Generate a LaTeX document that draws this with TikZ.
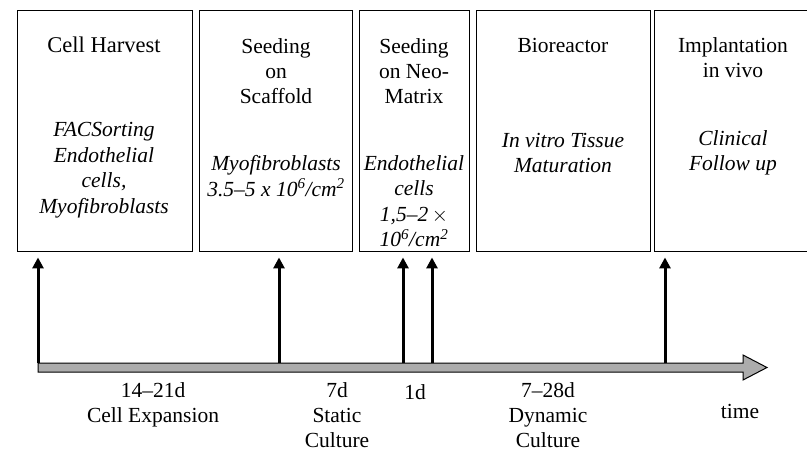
\documentclass[tikz,border=0pt]{standalone}
\usepackage{fontspec}
\setmainfont{Liberation Serif}
\usetikzlibrary{arrows.meta}

\begin{document}
\begin{tikzpicture}[x=1pt, y=-1pt,
  every node/.style={inner sep=0pt, align=center, font=\fontsize{21.5}{25}\selectfont},
  stagebox/.style={draw, line width=0.9pt, minimum height=241pt},
  note/.style={font=\fontsize{21.5}{25.5}\selectfont\itshape},
  tick/.style={line width=3pt, -{Triangle[length=11pt, width=11pt]}},
  axis/.style={draw=black, line width=1pt, fill=gray!65}]
\useasboundingbox (0,0) rectangle (807,452);
\clip (0,0) rectangle (807,452);
\node[stagebox, minimum width=175pt] (B1) at (104.5,130.5) {};
\node[stagebox, minimum width=153pt] (B2) at (275.5,130.5) {};
\node[stagebox, minimum width=110pt] (B3) at (414,130.5) {};
\node[stagebox, minimum width=174pt] (B4) at (563,130.5) {};
\node[stagebox, minimum width=170pt] (B5) at (739,130.5) {};
\node[font=\fontsize{22.5}{25}\selectfont] (B1T) at (104,45) {Cell Harvest};
\node[note] (B1N) at (104,170) {FACSorting\\Endothelial\\cells,\\Myofibroblasts};
\node (B2T) at (276,71) {Seeding\\on\\Scaffold};
\node[note] (B2N) at (276,176) {Myofibroblasts\\3.5--5 x 10\textsuperscript{6}/cm\textsuperscript{2}};
\node (B3T) at (414,71) {Seeding\\on Neo-\\Matrix};
\node[note] (B3N) at (414,201) {Endothelial\\cells\\1,5--2\,$\times$\\10\textsuperscript{6}/cm\textsuperscript{2}};
\node (B4T) at (563,45) {Bioreactor};
\node[note] (B4N) at (563,153) {In vitro Tissue\\Maturation};
\node (B5T) at (733,58) {Implantation\\in vivo};
\node[note] (B5N) at (733,153) {Clinical\\Follow up};
\draw[axis] (38,363) -- (743,363) -- (743,355) -- (767,367.5) -- (743,380) -- (743,372) -- (38,372) -- cycle;
\coordinate (A1) at (38,363);
\coordinate (A2) at (279,363);
\coordinate (A3) at (403,363);
\coordinate (A4) at (432,363);
\coordinate (A5) at (665,363);
\draw[tick, shorten >=6pt] (A1) -- (A1 |- B1.south);
\draw[tick, shorten >=6pt] (A2) -- (A2 |- B2.south);
\draw[tick, shorten >=6pt] (A3) -- (A3 |- B3.south);
\draw[tick, shorten >=6pt] (A4) -- (A4 |- B3.south);
\draw[tick, shorten >=6pt] (A5) -- (A5 |- B5.south);
\node (L1) at (153,405) {14--21d\\Cell Expansion};
\node (L2) at (337,415) {7d\\Static\\Culture};
\node (L3) at (415,392) {1d};
\node (L4) at (548,415) {7--28d\\Dynamic\\Culture};
\node (L5) at (740,411) {time};
\end{tikzpicture}
\end{document}
